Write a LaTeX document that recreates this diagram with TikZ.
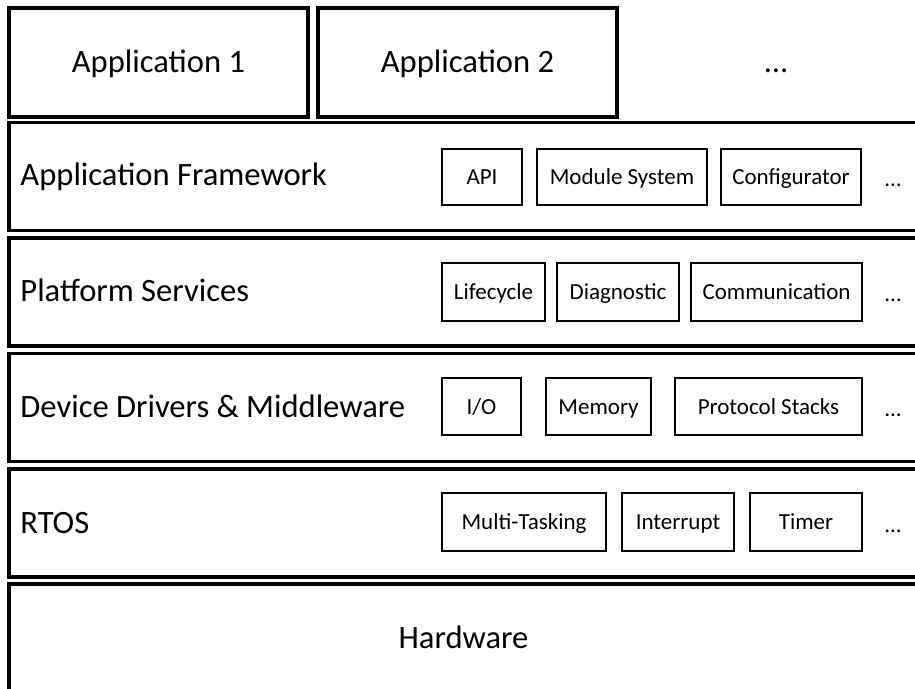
\documentclass[tikz,border=0pt]{standalone}
\usepackage{fontspec}
\setmainfont{Carlito}

\tikzset{
	big/.style={font=\fontsize{16.3}{19}\selectfont},
	small/.style={font=\fontsize{11.5}{14}\selectfont},
	size/.style 2 args={minimum width=#1*0.5pt, minimum height=#2*0.5pt},
	layer/.style={draw, line width=1.7pt, inner sep=0pt, big, text height=10pt, text depth=0pt},
	appbox/.style={layer},
	comp/.style={draw, line width=1pt, inner sep=0pt, small, text height=1.8ex, text depth=.2ex},
	lbl/.style={anchor=base west, inner sep=0pt, big},
	more/.style={anchor=base, inner sep=0pt, small}
}

\begin{document}
\begin{tikzpicture}[x=0.5pt, y=-0.5pt]
		\useasboundingbox (0,0) rectangle (915,689);
		\clip (0,0) rectangle (915,689);
		% applications on top
		\node[appbox, size={299}{109}] (app1) at (158.5,62.5) {Application 1};
		\node[appbox, size={299}{109}] (app2) at (467.5,62.5) {Application 2};
		\node[more, big] (appmore) at (776,73) {…};
		% the layers, open to the right
		\node[layer, size={909}{108}] (fw) at (463.5,176.5) {};
		\node[layer, size={909}{108}] (ps) at (463.5,292) {};
		\node[layer, size={909}{108}] (dd) at (463.5,407.5) {};
		\node[layer, size={909}{108}] (rtos) at (463.5,523) {};
		\node[layer, size={909}{108}] (hw) at (463.5,638) {Hardware};
		\node[lbl] (fwlbl) at (20,186) {Application Framework};
		\node[lbl] (pslbl) at (20,302) {Platform Services};
		\node[lbl] (ddlbl) at (20,417) {Device Drivers \& Middleware};
		\node[lbl] (rtoslbl) at (20,533) {RTOS};
		% application framework
		\node[comp, size={80}{56}] (api) at (482,177) {API};
		\node[comp, size={170}{56}] (mod) at (622,177) {Module System};
		\node[comp, size={140}{56}] (conf) at (791,177) {Configurator};
		\node[more] (fwmore) at (893,187) {…};
		% platform services
		\node[comp, size={103}{58}] (life) at (493.5,292) {Lifecycle};
		\node[comp, size={122}{58}] (diag) at (618,292) {Diagnostic};
		\node[comp, size={171}{58}] (comm) at (776.5,292) {Communication};
		\node[more] (psmore) at (893,302) {…};
		% drivers and middleware
		\node[comp, size={79}{57}] (io) at (481.5,406.5) {I/O};
		\node[comp, size={105}{57}] (mem) at (598.5,406.5) {Memory};
		\node[comp, size={187}{57}] (proto) at (768.5,406.5) {Protocol Stacks};
		\node[more] (ddmore) at (893,416) {…};
		% rtos
		\node[comp, size={164}{58}] (task) at (524,522) {Multi-Tasking};
		\node[comp, size={112}{58}] (irq) at (678,522) {Interrupt};
		\node[comp, size={112}{58}] (timer) at (806,522) {Timer};
		\node[more] (rtosmore) at (893,532) {…};
	\end{tikzpicture}
\end{document}
